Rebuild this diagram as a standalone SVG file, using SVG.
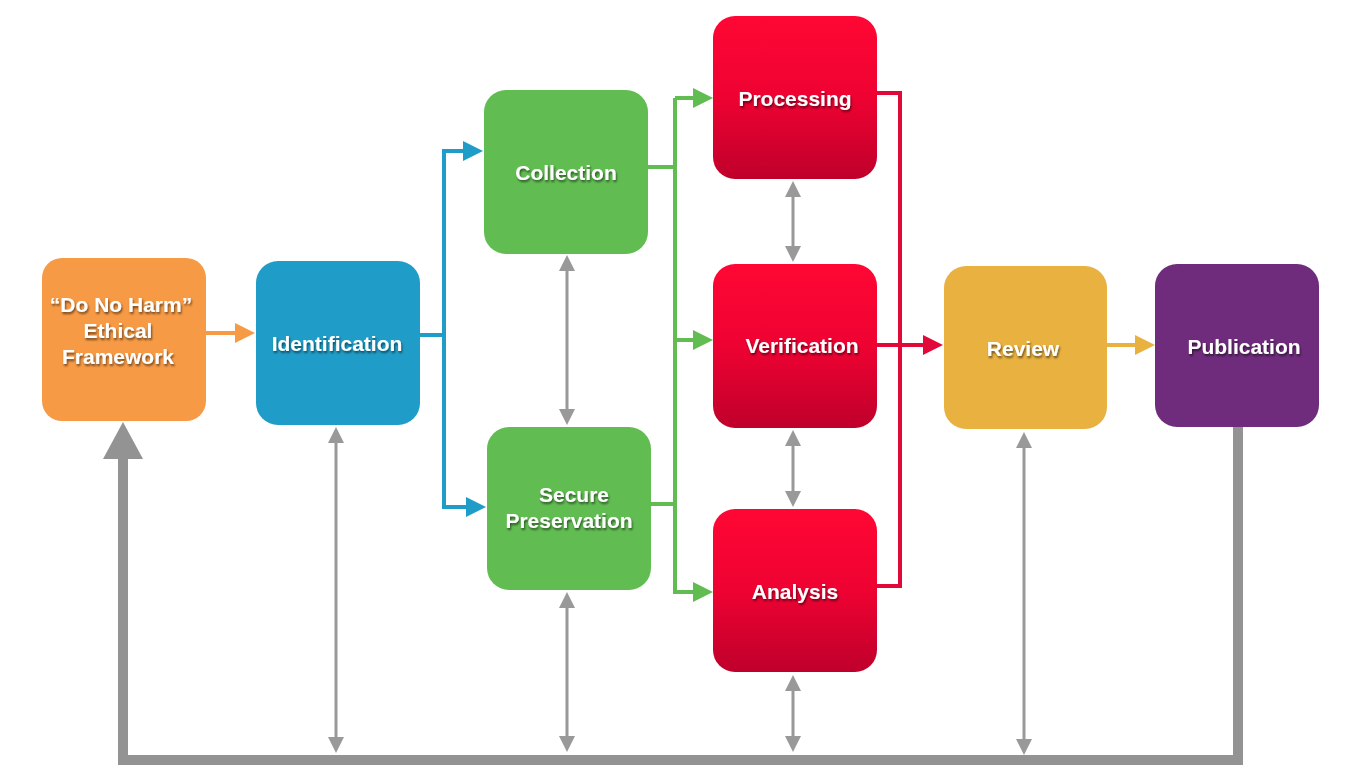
<svg xmlns="http://www.w3.org/2000/svg" width="1364" height="779" viewBox="0 0 1364 779">
<style>
.lbl{font-family:"Liberation Sans",Arial,sans-serif;font-weight:bold;font-size:21px;fill:#fff;text-anchor:middle;filter:url(#ts)}
.gthin{fill:none;stroke:#999;stroke-width:3;marker-start:url(#gh);marker-end:url(#gh)}
.conn{fill:none;stroke-width:4}
</style>
<defs>
<filter id="ts" x="-20%" y="-40%" width="140%" height="180%">
<feDropShadow dx="1" dy="2" stdDeviation="1.2" flood-color="#000" flood-opacity="0.55"/>
</filter>
<linearGradient id="redg" x1="0" y1="0" x2="0" y2="1">
<stop offset="0" stop-color="#FF0734"/>
<stop offset="0.5" stop-color="#EE0232"/>
<stop offset="1" stop-color="#BF002B"/>
</linearGradient>
<marker id="gh" markerUnits="userSpaceOnUse" viewBox="0 0 16 16" refX="2" refY="8" markerWidth="16" markerHeight="16" orient="auto-start-reverse"><path d="M0,0 L16,8 L0,16 z" fill="#999"/></marker>
<marker id="ah-o" markerUnits="userSpaceOnUse" viewBox="0 0 20 20" refX="2" refY="10" markerWidth="20" markerHeight="20" orient="auto"><path d="M0,0 L20,10 L0,20 z" fill="#F79A45"/></marker>
<marker id="ah-b" markerUnits="userSpaceOnUse" viewBox="0 0 20 20" refX="2" refY="10" markerWidth="20" markerHeight="20" orient="auto"><path d="M0,0 L20,10 L0,20 z" fill="#1F9DC8"/></marker>
<marker id="ah-g" markerUnits="userSpaceOnUse" viewBox="0 0 20 20" refX="2" refY="10" markerWidth="20" markerHeight="20" orient="auto"><path d="M0,0 L20,10 L0,20 z" fill="#61BD52"/></marker>
<marker id="ah-r" markerUnits="userSpaceOnUse" viewBox="0 0 20 20" refX="2" refY="10" markerWidth="20" markerHeight="20" orient="auto"><path d="M0,0 L20,10 L0,20 z" fill="#E0093A"/></marker>
<marker id="ah-y" markerUnits="userSpaceOnUse" viewBox="0 0 20 20" refX="2" refY="10" markerWidth="20" markerHeight="20" orient="auto"><path d="M0,0 L20,10 L0,20 z" fill="#E9B140"/></marker>
</defs>
<rect width="1364" height="779" fill="#fff"/>

<g id="connectors">
<path d="M1238,427 V760 H123 V455" fill="none" stroke="#939393" stroke-width="10"/>
<polygon points="103,459 143,459 123,422" fill="#939393"/>
<path class="conn" stroke="#F79A45" d="M206,333 H237" marker-end="url(#ah-o)"/>
<path class="conn" stroke="#1F9DC8" d="M420,335 H444 V151 H465" marker-end="url(#ah-b)"/>
<path class="conn" stroke="#1F9DC8" d="M444,335 V507 H468" marker-end="url(#ah-b)"/>
<path class="conn" stroke="#61BD52" d="M648,167 H675 M651,504 H675 M675,98 V592"/>
<path class="conn" stroke="#61BD52" d="M675,98 H695" marker-end="url(#ah-g)"/>
<path class="conn" stroke="#61BD52" d="M675,340 H695" marker-end="url(#ah-g)"/>
<path class="conn" stroke="#61BD52" d="M673,592 H695" marker-end="url(#ah-g)"/>
<path class="conn" stroke="#E0093A" d="M877,93 H900 V586 H877"/>
<path class="conn" stroke="#E0093A" d="M877,345 H925" marker-end="url(#ah-r)"/>
<path class="conn" stroke="#E9B140" d="M1107,345 H1137" marker-end="url(#ah-y)"/>
<path class="gthin" d="M336,441 V739"/>
<path class="gthin" d="M567,269 V411"/>
<path class="gthin" d="M567,606 V738"/>
<path class="gthin" d="M793,195 V248"/>
<path class="gthin" d="M793,444 V493"/>
<path class="gthin" d="M793,689 V738"/>
<path class="gthin" d="M1024,446 V741"/>
</g>

<g id="ethical">
<rect x="42" y="258" width="164" height="163" rx="20" fill="#F79A45"/>
<text class="lbl"><tspan x="121" y="312">“Do No Harm”</tspan><tspan x="118" y="338">Ethical</tspan><tspan x="118" y="364">Framework</tspan></text>
</g>
<g id="identification">
<rect x="256" y="261" width="164" height="164" rx="22" fill="#1F9DC8"/>
<text class="lbl" x="337" y="351">Identification</text>
</g>
<g id="collection">
<rect x="484" y="90" width="164" height="164" rx="22" fill="#61BD52"/>
<text class="lbl" x="566" y="180">Collection</text>
</g>
<g id="preservation">
<rect x="487" y="427" width="164" height="163" rx="22" fill="#61BD52"/>
<text class="lbl"><tspan x="574" y="502">Secure</tspan><tspan x="569" y="528">Preservation</tspan></text>
</g>
<g id="processing">
<rect x="713" y="16" width="164" height="163" rx="22" fill="url(#redg)"/>
<text class="lbl" x="795" y="106">Processing</text>
</g>
<g id="verification">
<rect x="713" y="264" width="164" height="164" rx="22" fill="url(#redg)"/>
<text class="lbl" x="802" y="353">Verification</text>
</g>
<g id="analysis">
<rect x="713" y="509" width="164" height="163" rx="22" fill="url(#redg)"/>
<text class="lbl" x="795" y="599">Analysis</text>
</g>
<g id="review">
<rect x="944" y="266" width="163" height="163" rx="22" fill="#E9B140"/>
<text class="lbl" x="1023" y="356">Review</text>
</g>
<g id="publication">
<rect x="1155" y="264" width="164" height="163" rx="22" fill="#6F2C7C"/>
<text class="lbl" x="1244" y="354">Publication</text>
</g>
</svg>
